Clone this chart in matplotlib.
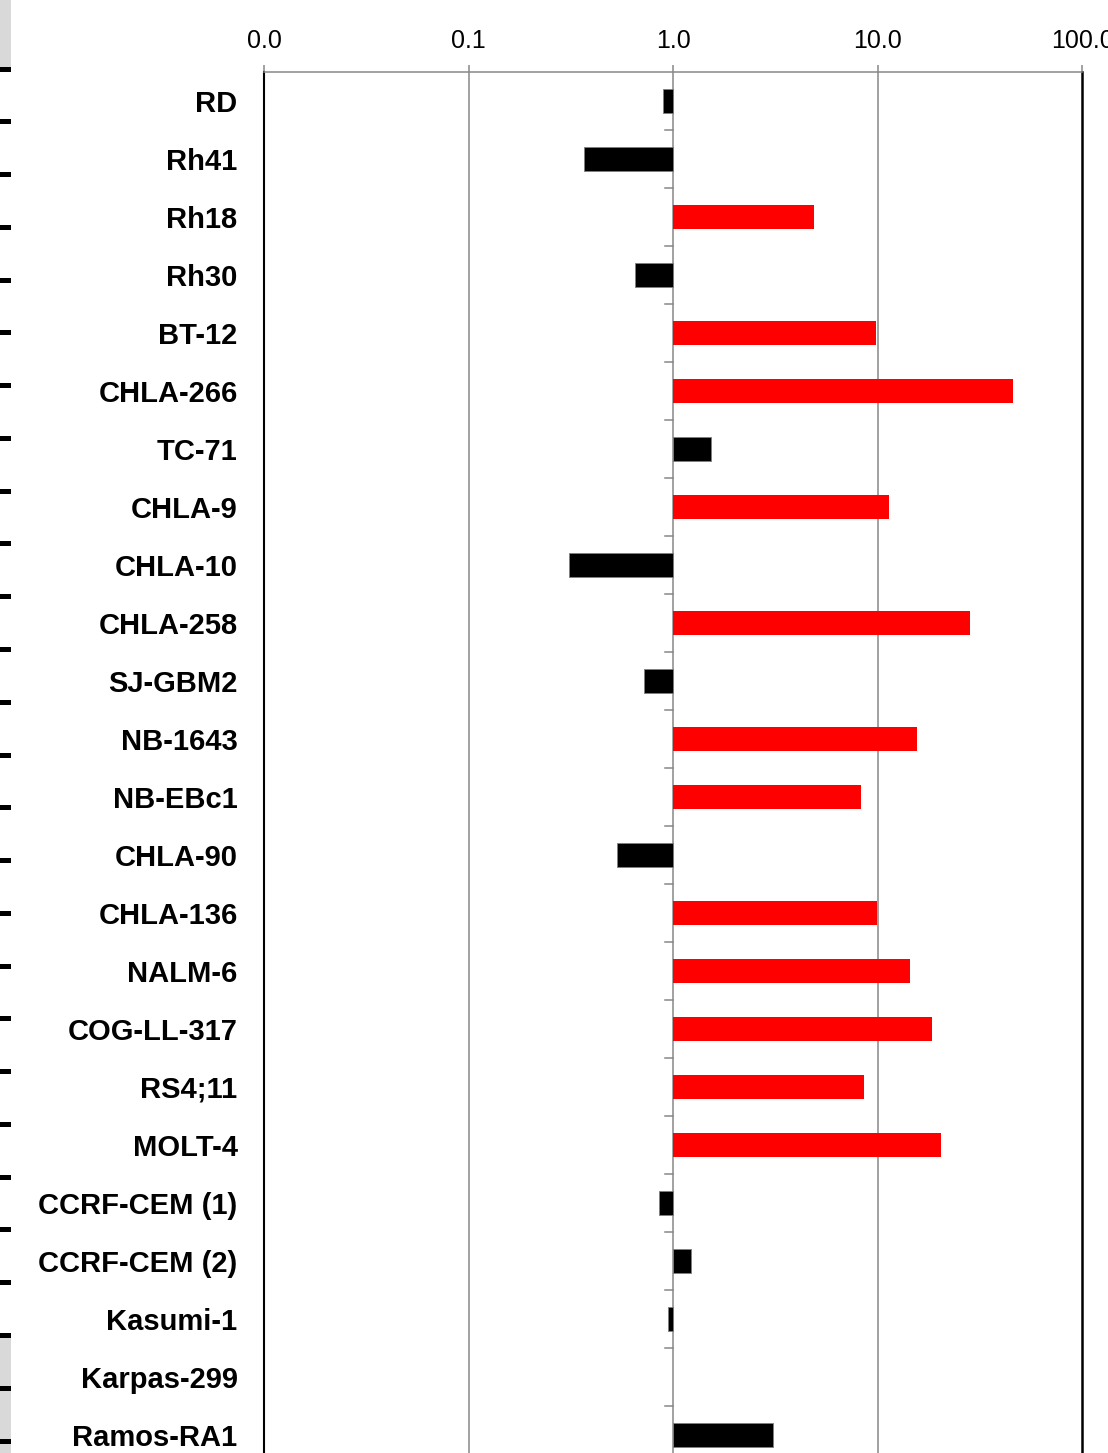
import matplotlib
matplotlib.use("Agg")
import matplotlib.pyplot as plt
import matplotlib.transforms as mtransforms
import numpy as np

# ---- data ----
cell_lines = ["RD", "Rh41", "Rh18", "Rh30", "BT-12", "CHLA-266", "TC-71", "CHLA-9",
              "CHLA-10", "CHLA-258", "SJ-GBM2", "NB-1643", "NB-EBc1", "CHLA-90",
              "CHLA-136", "NALM-6", "COG-LL-317", "RS4;11", "MOLT-4", "CCRF-CEM (1)",
              "CCRF-CEM (2)", "Kasumi-1", "Karpas-299", "Ramos-RA1"]
values = [0.89, 0.367, 4.89, 0.65, 9.83, 46.0, 1.53, 11.4,
          0.31, 28.3, 0.72, 15.6, 8.3, 0.53,
          9.95, 14.4, 18.5, 8.6, 20.4, 0.85,
          1.23, 0.95, 1.0, 3.08]
highlight = [False, False, True, False, True, True, False, True,
             False, True, False, True, True, False,
             True, True, True, True, True, False,
             False, False, False, False]
tick_values = [0.01, 0.1, 1.0, 10.0, 100.0]
tick_labels = ["0.0", "0.1", "1.0", "10.0", "100.0"]

W, H = 1108, 1453
fig = plt.figure(figsize=(W / 100, H / 100), dpi=100)
fig.patch.set_facecolor("white")

# left strip artifact
strip = fig.add_axes([0, 0, 11 / W, 1])
strip.set_xlim(0, 1)
strip.set_ylim(H, 0)
strip.axis("off")
strip.axhspan(0, 67, color="#d9d9d9", lw=0)
strip.axhspan(1334, H, color="#d9d9d9", lw=0)
for k in range(27):
    strip.axhline(68.5 + k * 52.77, color="black", lw=3.6)

# main axes
left_px, right_px, top_px, bottom_px = 264, 1082, 72, 1464
ax = fig.add_axes([left_px / W, (H - bottom_px) / H, (right_px - left_px) / W,
                   (bottom_px - top_px) / H])
ax.set_xscale("log")
ax.set_xlim(0.01, 100)
n = len(cell_lines)
y = np.arange(n)
ax.set_ylim(n - 0.5, -0.5)

widths = [v - 1.0 for v in values]
colors = ["#ff0000" if h else "#000000" for h in highlight]
edges = ["none" if (h or w == 0) else "#7f7f7f" for h, w in zip(highlight, widths)]
ax.barh(y, widths, left=1.0, height=0.4, color=colors, edgecolor=edges,
        linewidth=0.6, zorder=3)

# gridlines
for xv in tick_values[1:-1]:
    ax.axvline(xv, color="#888888", lw=1.1, zorder=1)

# category tick marks on the 1.0 axis
trans = mtransforms.blended_transform_factory(ax.transAxes, ax.transData)
x_axis_frac = (np.log10(1.0) - np.log10(0.01)) / 4.0
for b in np.arange(0.5, n - 0.5, 1.0):
    ax.plot([x_axis_frac - 8 / (right_px - left_px), x_axis_frac], [b, b],
            color="#888888", lw=1.1, transform=trans, zorder=2, clip_on=False)

ax.xaxis.tick_top()
ax.set_xticks(tick_values)
ax.set_xticklabels(tick_labels)
ax.minorticks_off()
ax.tick_params(axis="x", which="major", length=5, width=1.1, color="#888888",
               pad=9, labelsize=18, labelcolor="black")
for lab in ax.get_xticklabels():
    lab.set_fontfamily("Liberation Sans")

ax.set_yticks(y)
ax.set_yticklabels(cell_lines, fontfamily="Liberation Sans", fontweight="bold",
                   fontsize=21)
ax.tick_params(axis="y", length=0, pad=19)

ax.spines["top"].set_color("#888888")
ax.spines["top"].set_linewidth(1.1)
ax.spines["left"].set_color("black")
ax.spines["left"].set_linewidth(1.5)
ax.spines["right"].set_color("black")
ax.spines["right"].set_linewidth(1.8)
ax.spines["bottom"].set_visible(False)

fig.savefig("out.png", dpi=100, facecolor="white")
